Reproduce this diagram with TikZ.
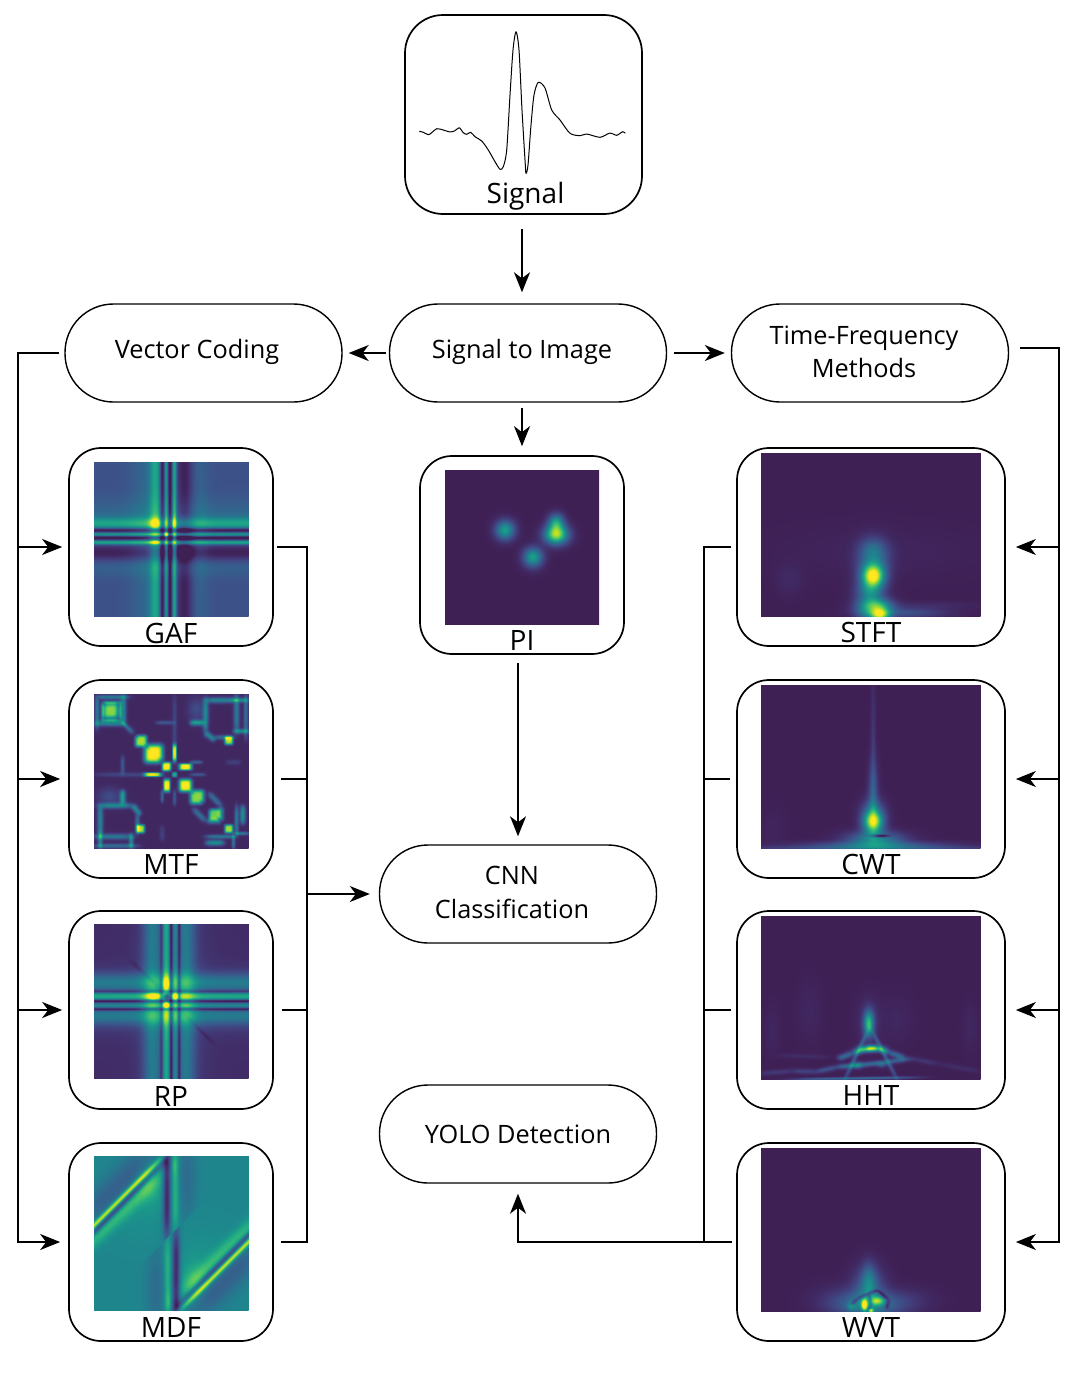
\documentclass[tikz,border=0pt]{standalone}
\usepackage{fontspec}
\setmainfont{Open Sans}
\usetikzlibrary{arrows.meta,calc}
% ---- heat-map generator: PostScript calculator functions in (X,t), both 0..100, t from the top
\newcommand\hinit[1]{\gdef\hc{100 exch sub #1 }}
\newcommand\hinitfold[1]{\gdef\hc{100 exch sub 2 copy gt {exch} if #1 }}
\newcommand\hinitrefl[1]{\gdef\hc{100 exch sub 2 copy add 100 gt {100 exch sub exch 100 exch sub exch} if #1 }}
\def\hw{1}
\newcommand\tG[5]{\xdef\hc{\hc 2 index #1 sub #3 \hw\space mul div dup mul 2 index #2 sub #4 \hw\space mul div dup mul add neg 2.718 exch exp #5 mul add }}
\newcommand\tQ[5]{\xdef\hc{\hc 2 index #1 sub #3 \hw\space mul div dup mul dup mul 2 index #2 sub #4 \hw\space mul div dup mul dup mul add neg 2.718 exch exp #5 mul add }}
\newcommand\tB[3]{\tG{#1}{50}{#2}{1000}{#3}\tG{50}{#1}{1000}{#2}{#3}}
\newcommand\tS[6]{%
  \pgfmathsetmacro\sL{veclen((#3)-(#1),(#4)-(#2))}%
  \pgfmathsetmacro\sC{((#3)-(#1))/\sL}%
  \pgfmathsetmacro\sN{((#4)-(#2))/\sL}%
  \pgfmathsetmacro\sX{((#1)+(#3))/2}%
  \pgfmathsetmacro\sY{((#2)+(#4))/2}%
  \pgfmathsetmacro\sH{\sL/2}%
  \xdef\hc{\hc 2 index \sX\space sub \sC\space mul 2 index \sY\space sub \sN\space mul add \sH\space div dup mul dup mul 3 index \sX\space sub \sN\space mul neg 3 index \sY\space sub \sC\space mul add #5 \hw\space mul div dup mul add neg 2.718 exch exp #6 mul add }}
\newcommand\poly[7]{#1 1 index mul #2 add 1 index mul #3 add 1 index mul #4 add 1 index mul #5 add 1 index mul #6 add 1 index mul #7 add }
\def\vir{3 1 roll pop pop dup 0 lt {pop 0} if dup 1 gt {pop 1} if
 \poly{-5.4355}{4.7764}{6.2283}{-4.6342}{-0.3309}{0.1051}{0.2777} 1 index 1 exch sub 0.03 mul sub exch
 \poly{4.6459}{-13.7451}{14.1799}{-5.7991}{0.2148}{1.4046}{0.0054} 1 index 1 exch sub dup mul dup mul 0.12 mul add exch
 \poly{26.3124}{-65.3530}{56.6906}{-19.3324}{0.0951}{1.3846}{0.3341} exch pop }
\newcommand\hdeclare[1]{\edef\hcall{\noexpand\pgfdeclarefunctionalshading{#1}{\noexpand\pgfpointorigin}{\noexpand\pgfpoint{100bp}{100bp}}{}{\hc\vir}}\hcall}

% GAF
\def\hw{1.25}
\hinit{0.2}
\tB{39.6}{3}{0.3}\tB{35}{9}{0.1}\tB{44}{1.2}{-0.32}\tB{46.7}{0.9}{0.28}\tB{49}{1}{-0.3}\tB{52}{1.1}{0.42}\tB{58.5}{4.5}{-0.2}\tB{68}{5}{0.07}
\tG{46.7}{46.7}{1.2}{1.2}{0.4}\tG{39.6}{39.6}{3}{3}{0.2}\tG{39.6}{51.7}{3}{1}{0.15}\tG{51.7}{39.6}{1}{3}{0.15}
\hdeclare{shgaf}
% MTF
\def\hw{1.4}
\hinitfold{0.03}
\tQ{10.7}{11}{3.5}{3.5}{0.8}\tQ{30}{30.7}{2.5}{2.5}{0.85}\tQ{38}{39}{4}{4}{1}\tQ{46.7}{47}{2}{2}{1}\tQ{52}{52}{1.2}{1.2}{0.55}
\tQ{59}{59}{3}{3}{1}\tQ{66}{67}{3}{3}{0.8}\tQ{77.5}{78}{2.5}{2.5}{0.75}\tQ{87}{87}{2}{2}{0.85}
\tQ{47}{59}{1.6}{3}{1}\tQ{38}{52}{4}{1}{0.85}\tQ{30}{87}{2}{2}{0.85}
\def\hw{1.8}
\tS{0}{19}{24}{19}{1}{0.4}\tS{5.5}{5}{5.5}{17}{0.6}{0.4}\tS{5}{17}{17}{17}{0.6}{0.4}\tS{17}{15}{25}{25}{1}{0.35}\tS{2}{0}{2}{22}{0.8}{0.35}
\tS{18.5}{62}{18.5}{71}{1}{0.5}\tS{3}{72}{25}{72}{1}{0.4}\tS{25}{72}{30}{78}{1}{0.4}\tS{4}{72}{4}{90}{1}{0.4}\tS{28}{78}{28}{90}{0.8}{0.3}
\tS{0}{92}{25}{92}{1}{0.35}\tS{4}{88}{4}{100}{0.8}{0.4}\tS{24}{90}{24}{100}{0.8}{0.4}\tS{0}{98}{28}{98}{0.8}{0.3}
\tG{10}{66}{4}{3}{0.15}\tS{0}{52}{45}{52}{0.8}{0.12}\tS{18.5}{40}{18.5}{52}{0.7}{0.2}\tS{44}{62}{44}{70}{0.6}{0.25}\tS{52}{62}{52}{72}{0.6}{0.2}\tS{44}{85}{44}{95}{0.9}{0.1}
\tS{72}{96}{84}{96}{1}{0.45}\tS{72}{92}{92}{92}{0.7}{0.35}\tS{73}{82}{82}{82}{1}{0.4}\tS{90}{90}{90}{100}{0.6}{0.35}\tS{64}{74}{72}{82}{1}{0.3}
\hdeclare{shmtf}
% RP
\def\hw{1.3}
\hinit{0.05}
\tB{37.5}{4.5}{0.28}\tB{50}{14}{0.1}\tB{43.5}{0.9}{-0.25}\tB{46.7}{2.2}{0.42}\tB{49.7}{0.8}{-0.32}\tB{52.5}{1.2}{0.22}\tB{55}{0.8}{-0.28}\tB{59.5}{4.5}{0.26}
\tG{47}{47}{2}{2}{-0.9}\tG{46.7}{39}{2}{4}{0.25}\tG{39}{46.7}{4}{2}{0.25}\tG{52}{46.8}{1.6}{1.6}{0.35}\tG{46.7}{52}{1.6}{1.6}{0.35}
\tS{24}{24}{41}{40}{1}{-0.08}\tS{60}{60}{77}{77}{1}{-0.08}
\hdeclare{shrp}
% MDF
\def\hw{1.6}
\hinitrefl{0.44}
\tS{-10}{55}{43}{2}{1.1}{0.55}\tS{-10}{59}{43}{6}{1.2}{-0.35}\tS{-10}{64}{43}{12}{3}{0.22}\tS{-5}{40}{38}{-3}{6}{-0.18}
\tG{36}{18}{5}{8}{0.16}\tS{47}{-3}{47}{53}{1.6}{-0.42}\tG{47}{4}{2}{3}{-0.1}\tS{52.5}{-3}{52.5}{47}{1.5}{0.2}\tG{52}{5}{1.2}{4}{0.1}
\tG{60}{15}{4}{18}{-0.12}\tG{30}{35}{12}{12}{0.05}
\hdeclare{shmdf}
% PI
\def\hw{1}
\hinit{0}
\tG{39}{39}{6.2}{6.2}{0.55}\tG{57}{56.5}{6.2}{6.2}{0.55}\tG{72}{42}{7.5}{6}{0.85}\tG{72}{34}{5}{5.5}{0.5}
\hdeclare{shpi}
% STFT
\def\hw{1.5}
\hinit{0}
\tG{51}{75}{3.3}{4.5}{0.85}\tG{51}{66}{4.5}{8}{0.35}\tG{51}{58}{4}{4}{0.12}\tG{49.5}{85}{4}{5}{0.4}\tG{52}{93}{5}{3}{0.55}\tG{54}{99}{3}{3}{0.8}\tG{47}{98}{3}{3}{0.2}
\tG{65}{97.5}{12}{2}{0.2}\tG{75}{93}{15}{1.5}{0.05}\tG{13}{77}{4}{6}{0.04}\tG{55}{60}{30}{10}{0.02}
\hdeclare{shstft}
% CWT
\def\hw{1.55}
\hinit{0}
\tG{51}{84}{2.8}{4}{0.6}\tG{51}{80}{3.2}{6}{0.42}\tG{51}{65}{1.4}{12}{0.22}\tG{51}{35}{0.7}{25}{0.09}
\tG{52}{94}{8}{3}{0.42}\tG{52}{98}{20}{1.6}{0.3}\tG{52}{99.5}{40}{0.8}{0.15}\tG{54}{92}{2.5}{0.6}{-0.5}\tG{5}{88}{4}{8}{0.02}
\hdeclare{shcwt}
% HHT
\def\hw{1.7}
\hinit{0}
\tG{49}{65.5}{1.3}{4.5}{0.6}\tG{49}{64}{3}{8}{0.08}\tS{48.5}{70}{38}{100}{0.6}{0.22}\tS{50.5}{70}{62}{100}{0.6}{0.22}
\tS{35}{87}{42}{83.5}{1}{0.3}\tS{42}{83.5}{48}{81}{1}{0.4}\tS{48}{81}{53}{80.7}{1}{0.45}\tS{53}{80.7}{58}{83}{1}{0.4}\tS{58}{83}{65}{86.5}{1}{0.3}
\tG{48}{81}{2.5}{1.2}{0.35}\tG{52}{80.5}{2.5}{1.2}{0.25}
\tS{0}{96}{15}{94.5}{0.9}{0.1}\tS{15}{94.5}{25}{95}{0.9}{0.14}\tS{25}{95}{35}{92}{0.9}{0.2}\tS{35}{92}{44}{91}{0.9}{0.3}\tS{44}{91}{55}{89.5}{0.9}{0.3}\tS{55}{89.5}{68}{87}{0.9}{0.25}\tS{68}{87}{80}{90}{0.9}{0.08}\tS{80}{90}{100}{95}{0.9}{0.05}
\tS{15}{99.6}{70}{98.5}{0.5}{0.3}
\tG{44}{91}{1.2}{1.2}{0.3}\tG{55}{90.5}{1.2}{1.2}{0.2}\tG{5}{70}{2}{8}{0.03}\tG{22}{58}{3}{10}{0.03}\tG{62}{63}{4}{8}{0.03}\tG{95}{68}{2}{8}{0.03}\tS{8}{85}{30}{86}{0.8}{0.05}
\hdeclare{shhht}
% WVT
\def\hw{1.25}
\hinit{0}
\tG{49}{80}{2.5}{8}{0.22}\tG{49}{86}{5.5}{10}{0.28}\tG{49}{96}{12}{6}{0.35}\tG{36}{92}{10}{7}{0.06}\tG{66}{93}{10}{6}{0.06}
\tS{41}{96}{44}{92}{0.8}{-0.25}\tS{44}{92}{49}{89}{0.8}{-0.3}\tS{49}{89}{53}{87}{0.8}{-0.3}\tS{53}{87}{58}{93}{0.8}{-0.3}\tS{58}{93}{57}{98.5}{0.8}{-0.25}\tS{49}{89}{50}{96}{0.7}{-0.25}\tS{50}{96}{48.5}{100}{0.6}{-0.2}
\tG{47}{96}{1}{2.5}{0.8}\tG{53}{93.5}{2.5}{2}{0.45}\tG{41}{97}{1.5}{2}{0.2}\tG{50}{99.5}{1}{1}{0.6}
\hdeclare{shwvt}

\tikzset{
  panel/.style={draw=black,line width=1.7pt,fill=white,rounded corners=32pt,minimum width=#1,minimum height=198pt,inner sep=0pt},
  sigbox/.style={draw=black,line width=1.7pt,fill=white,rounded corners=38pt,minimum width=237pt,minimum height=199pt,inner sep=0pt},
  pill/.style={draw=black,line width=1.4pt,fill=white,rounded corners=48.5pt,minimum width=277pt,minimum height=98pt,inner sep=0pt},
  txt/.style={inner sep=0pt,font=\fontsize{25.3}{33}\selectfont,align=center,anchor=center},
  lab/.style={inner sep=0pt,font=\fontsize{28}{33}\selectfont,anchor=center},
  img/.style={inner sep=0pt,outer sep=0pt,line width=0pt,anchor=center},
  conn/.style={draw=black,line width=1.6pt},
  flow/.style={conn,-{Stealth[length=20pt,width=16pt,inset=6pt]}},
}
\newcommand\sqimg[1]{\resizebox{155pt}{155pt}{\pgfuseshading{#1}}}
\newcommand\wideimg[1]{\resizebox{220pt}{164pt}{\pgfuseshading{#1}}}
\begin{document}
\begin{tikzpicture}[x=1pt,y=-1pt]
\useasboundingbox (0,0) rectangle (1076,1373);
\fill[white] (0,0) rectangle (1076,1373);
% signal
\node[sigbox] (signal) at (523.5,114.5) {};
\draw[line width=1pt,line join=round] plot[smooth,tension=.45] coordinates {(419.3,131.3)(423.3,132.3)(428.3,134.7)(431.7,132.7)(436.7,128.7)(443.3,130)(450,132)(455,130.7)(459.3,127.7)(463.3,132.7)(466.7,134.3)(470.7,132.3)(475,136.7)(481.7,141)(488.3,150)(495,161.7)(500,169.3)(503.3,166.7)(506.7,150)(510,95)(513,50)(516,31.7)(519,50)(522,110)(525,160)(526,173.3)(528,165)(531,125)(534,95)(538.3,82.3)(545,88)(551.7,110)(560,120)(570,133.3)(580,135.7)(586.7,134)(600,137.3)(610,133)(616.7,135.3)(622.7,131.7)(625.3,133.3)};
\node[lab] (signallabel) at (525.5,196.5) {Signal};
% pills
\node[pill] (vc) at (203.5,353) {};
\node[txt] (vclabel) at (197,352) {Vector Coding};
\node[pill] (sti) at (528,353) {};
\node[txt] (stilabel) at (522,352) {Signal to Image};
\node[pill] (tf) at (870,353) {};
\node[txt] (tflabel) at (864,352) {Time-Frequency\\Methods};
\node[pill] (cnn) at (518,894) {};
\node[txt,align=center] (cnnlabel) at (512,892) {CNN\\[1pt]Classification};
\node[pill] (yolo) at (518,1134) {};
\node[txt] (yololabel) at (518,1134) {YOLO Detection};
% left panels
\node[panel=204pt] (gaf) at (171,547) {};
\node[img] (gafimg) at (171,539) {\sqimg{shgaf}};
\node[lab] (gaflabel) at (171,633) {GAF};
\node[panel=204pt] (mtf) at (171,779) {};
\node[img] (mtfimg) at (171,771) {\sqimg{shmtf}};
\node[lab] (mtflabel) at (171,864) {MTF};
\node[panel=204pt] (rp) at (171,1010) {};
\node[img] (rpimg) at (171,1001) {\sqimg{shrp}};
\node[lab] (rplabel) at (171,1096) {RP};
\node[panel=204pt] (mdf) at (171,1242) {};
\node[img] (mdfimg) at (171,1233) {\sqimg{shmdf}};
\node[lab] (mdflabel) at (171,1327) {MDF};
% centre panel
\node[panel=204pt] (pi) at (522,555) {};
\node[img] (piimg) at (521.7,546.7) {\sqimg{shpi}};
\node[lab] (pilabel) at (522,640) {PI};
% right panels
\node[panel=268pt] (stft) at (871,547) {};
\node[img] (stftimg) at (870.5,534.5) {\wideimg{shstft}};
\node[lab] (stftlabel) at (871,632) {STFT};
\node[panel=268pt] (cwt) at (871,779) {};
\node[img] (cwtimg) at (870.5,766.5) {\wideimg{shcwt}};
\node[lab] (cwtlabel) at (871,864) {CWT};
\node[panel=268pt] (hht) at (871,1010) {};
\node[img] (hhtimg) at (870.5,997.5) {\wideimg{shhht}};
\node[lab] (hhtlabel) at (871,1095) {HHT};
\node[panel=268pt] (wvt) at (871,1242) {};
\node[img] (wvtimg) at (870.5,1229) {\wideimg{shwvt}};
\node[lab] (wvtlabel) at (871,1327) {WVT};
% bus rails
\coordinate (lbus) at (18,0);
\coordinate (lout) at (307,0);
\coordinate (rbus) at (1059,0);
\coordinate (rout) at (704,0);
% connectors
\draw[flow,shorten <=14pt,shorten >=11pt] (signal.south -| pi.north) -- (sti.north -| pi.north);
\draw[flow,shorten <=3pt,shorten >=6pt] (sti.west) -- (vc.east);
\draw[flow,shorten <=7pt,shorten >=6pt] (sti.east) -- (tf.west);
\draw[flow,shorten <=5pt,shorten >=9pt] (sti.south -| pi.north) -- (pi.north);
\draw[flow,shorten <=8pt,shorten >=8pt] (cnn.north |- pi.south) -- (cnn.north);
\draw[flow,shorten <=5pt,shorten >=8pt] (vc.west) -- (vc.west -| lbus) -- (mdf.west -| lbus) -- (mdf.west);
\draw[flow,shorten >=6pt] (gaf.west -| lbus) -- (gaf.west);
\draw[flow,shorten >=8pt] (mtf.west -| lbus) -- (mtf.west);
\draw[flow,shorten >=6pt] (rp.west -| lbus) -- (rp.west);
\draw[conn,shorten <=3pt,shorten >=7pt] (gaf.east) -- (gaf.east -| lout) -- (mdf.east -| lout) -- (mdf.east);
\draw[conn,shorten <=7pt] (mtf.east) -- (mtf.east -| lout);
\draw[conn,shorten <=8pt] (rp.east) -- (rp.east -| lout);
\draw[flow,shorten >=9pt] (cnn.west -| lout) -- (cnn.west);
\draw[flow,shorten <=11pt,shorten >=10pt] ([yshift=5pt]tf.east) -- ([yshift=5pt]tf.east -| rbus) -- (wvt.east -| rbus) -- (wvt.east);
\draw[flow,shorten >=10pt] (stft.east -| rbus) -- (stft.east);
\draw[flow,shorten >=10pt] (cwt.east -| rbus) -- (cwt.east);
\draw[flow,shorten >=10pt] (hht.east -| rbus) -- (hht.east);
\draw[conn,shorten <=5pt] (stft.west) -- (stft.west -| rout) -- (wvt.west -| rout);
\draw[conn,shorten <=6pt] (cwt.west) -- (cwt.west -| rout);
\draw[conn,shorten <=5pt] (hht.west) -- (hht.west -| rout);
\draw[flow,shorten <=4pt,shorten >=10pt] (wvt.west) -- (wvt.west -| yolo.south) -- (yolo.south);
\end{tikzpicture}
\end{document}
